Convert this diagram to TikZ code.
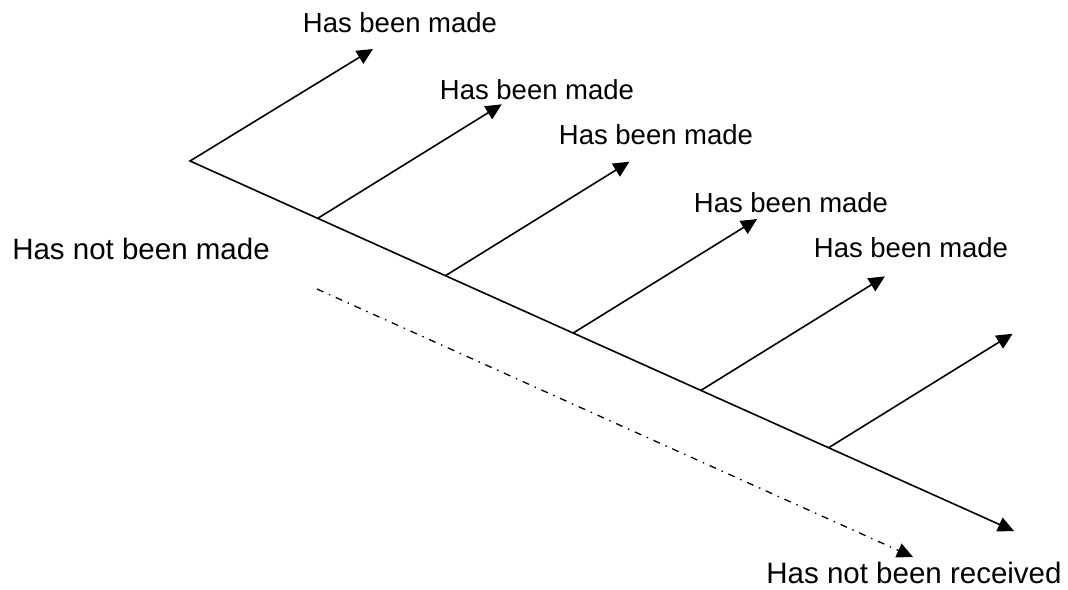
\documentclass[tikz,border=0pt]{standalone}
\usepackage{fontspec}
\setmainfont{Liberation Sans}
\usetikzlibrary{arrows.meta,calc}

\begin{document}
\begin{tikzpicture}[x=1pt,y=-1pt,
  >={Triangle[length=16pt,width=15pt]},
  branch/.style={->,line width=1.6pt},
  made/.style={font=\fontsize{27.5}{30}\selectfont,anchor=base},
  notmade/.style={font=\fontsize{29.5}{32}\selectfont,anchor=base}]
  \useasboundingbox (0,0) rectangle (1068,589);
  \coordinate (apex) at (190,161);
  \coordinate (end) at (1014,531);
  \path (apex) ++(183,-112) coordinate (t0);
  \draw[<->,line width=1.6pt,line join=miter] (t0) -- (apex) -- (end);
  % side branches along the main line
  \foreach \i in {1,...,5} {
    \coordinate (b\i) at ($(apex)!0.155*\i!(end)$);
    \path (b\i) ++(184,-114) coordinate (t\i);
    \draw[branch] (b\i) -- (t\i);
  }
  \node[made] (m0) at (400,32) {Has been made};
  \node[made] (m1) at (537,99) {Has been made};
  \node[made] (m2) at (656,144) {Has been made};
  \node[made] (m3) at (791,212) {Has been made};
  \node[made] (m4) at (911,257) {Has been made};
  \node[notmade] (nm) at (141,259) {Has not been made};
  % not received
  \coordinate (d0) at (317,289);
  \coordinate (d1) at (913,557);
  \draw[branch,line width=1.3pt,dash pattern=on 7pt off 6pt on 1.5pt off 6pt] (d0) -- (d1);
  \node[notmade] (nr) at (914,583) {Has not been received};
\end{tikzpicture}
\end{document}
